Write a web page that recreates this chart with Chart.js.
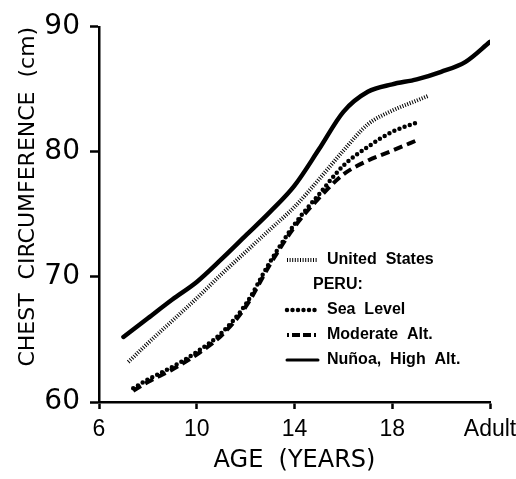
<!DOCTYPE html>
<html lang="en">
<head>
<meta charset="UTF-8">
<title>Chest circumference by age</title>
<style>
  body { margin: 0; background: #fff; }
  #wrap { width: 516px; height: 479px; }
</style>
</head>
<body>
<div id="wrap"><canvas id="canvas" width="516" height="479"></canvas></div>

<script src="https://cdn.jsdelivr.net/npm/chart.js@4.4.1/dist/chart.umd.min.js"></script>
<script>
// age in years (22 = "Adult"), chest circumference in cm
const usAges = [7.2, 8, 9, 10, 11, 12, 13, 14, 15, 16, 17, 18, 19, 19.5];
const usChest = [63.2, 64.7, 66.5, 68.3, 70.2, 72.0, 73.8, 75.6, 77.8, 80.1, 82.2, 83.3, 84.1, 84.5];

const seaAges = [7.4, 8, 9, 10, 11, 12, 13, 14, 15, 16, 17, 18, 19.1];
const seaChest = [61.1, 61.8, 62.8, 64.0, 65.5, 67.8, 71.2, 74.2, 76.6, 78.9, 80.4, 81.6, 82.4];

const modAges = [7.4, 8, 9, 10, 11, 12, 13, 14, 15, 16, 17, 18, 19.1];
const modChest = [60.9, 61.6, 62.6, 63.8, 65.3, 67.6, 71.0, 74.0, 76.3, 78.2, 79.3, 80.1, 81.0];

const nunoaAges = [7, 8, 9, 10, 11, 12, 13, 14, 15, 16, 17, 18, 19, 20, 21, 22];
const nunoaChest = [65.2, 66.7, 68.2, 69.6, 71.4, 73.3, 75.2, 77.3, 80.2, 83.2, 84.8, 85.4, 85.8, 86.4, 87.2, 88.8];

const xTicks = [6, 10, 14, 18, 22];
const xTickLabels = ['6', '10', '14', '18', 'Adult'];
const yTicks = [60, 70, 80, 90];

function pts(xs, ys) {
    return xs.map(function (x, i) { return { x: x, y: ys[i] }; });
}

const styles = [
    { width: 4, dash: [1, 1.6], cap: 'butt' },      // United States
    null,                                          // PERU: heading
    { width: 4.5, dash: [0, 5.5], cap: 'round' },  // Sea Level
    { width: 4, dash: [9, 5], cap: 'butt' },       // Moderate Alt.
    { width: 4.5, dash: [], cap: 'round' }         // Nunoa
];
const legendNames = ['United  States', 'PERU:', 'Sea  Level', 'Moderate  Alt.', 'Nuñoa,  High  Alt.'];

// legend drawn in the plot like the original figure
const figLegend = {
    id: 'figLegend',
    afterDatasetsDraw(chart) {
        const ctx = chart.ctx;
        ctx.save();
        ctx.font = 'bold 16px "Liberation Sans", Arial, sans-serif';
        ctx.fillStyle = '#000';
        ctx.strokeStyle = '#000';
        ctx.textBaseline = 'middle';
        legendNames.forEach(function (name, i) {
            const y = 260 + i * 25;
            const s = styles[i];
            if (!s) {
                ctx.fillText(name, 313, y);
                return;
            }
            ctx.beginPath();
            ctx.lineWidth = i == 4 ? 3 : s.width;
            ctx.lineCap = s.cap;
            ctx.setLineDash(i == 3 ? [2, 3, 8, 3, 8, 3, 2] : s.dash);
            ctx.moveTo(287, y);
            ctx.lineTo(318, y);
            ctx.stroke();
            ctx.fillText(name, 327, y);
        });
        ctx.restore();
    }
};

function ds(label, xs, ys, s) {
    return {
        label: label,
        data: pts(xs, ys),
        borderColor: '#000',
        backgroundColor: 'transparent',
        borderWidth: s.width,
        borderDash: s.dash,
        borderCapStyle: s.cap,
        pointRadius: 0,
        fill: false,
        cubicInterpolationMode: 'monotone'
    };
}

const ctx = document.getElementById('canvas').getContext('2d');
const myChart = new Chart(ctx, {
    type: 'line',
    data: {
        datasets: [
            ds('United States', usAges, usChest, styles[0]),
            ds('Sea Level', seaAges, seaChest, styles[2]),
            ds('Moderate Alt.', modAges, modChest, styles[3]),
            ds('Nuñoa, High Alt.', nunoaAges, nunoaChest, styles[4])
        ]
    },
    options: {
        responsive: false,
        animation: false,
        devicePixelRatio: 1,
        layout: { padding: { top: 24, right: 26, left: 0, bottom: 0 } },
        plugins: {
            legend: { display: false },
            tooltip: { enabled: false }
        },
        scales: {
            x: {
                type: 'linear',
                min: 6,
                max: 22,
                afterBuildTicks: function (scale) {
                    scale.ticks = xTicks.map(function (v) { return { value: v }; });
                },
                afterFit: function (scale) {
                    scale.height = 77;
                    scale.paddingRight = 26;
                },
                ticks: {
                    color: '#000',
                    padding: 7,
                    maxRotation: 0,
                    font: { family: '"Liberation Sans", Arial, sans-serif', size: 23 },
                    callback: function (v) { return xTickLabels[xTicks.indexOf(v)]; }
                },
                grid: { drawOnChartArea: false, tickLength: 7, tickWidth: 2.5, tickColor: '#000' },
                border: { color: '#000', width: 2.5 },
                title: {
                    display: true,
                    text: 'AGE  (YEARS)',
                    color: '#000',
                    padding: { top: 0, bottom: 4 },
                    font: { family: '"DejaVu Sans", sans-serif', size: 24 }
                }
            },
            y: {
                type: 'linear',
                min: 60,
                max: 90,
                afterBuildTicks: function (scale) {
                    scale.ticks = yTicks.map(function (v) { return { value: v }; });
                },
                afterFit: function (scale) {
                    scale.width = 99;
                },
                ticks: {
                    color: '#000',
                    padding: 10,
                    font: { family: '"DejaVu Sans", sans-serif', size: 28 }
                },
                grid: { drawOnChartArea: false, tickLength: 9, tickWidth: 2.5, tickColor: '#000' },
                border: { color: '#000', width: 2.5 },
                title: {
                    display: true,
                    text: 'CHEST  CIRCUMFERENCE  (cm)',
                    align: 'end',
                    color: '#000',
                    padding: { top: 15, bottom: 0 },
                    font: { family: '"DejaVu Sans", sans-serif', size: 22 }
                }
            }
        }
    },
    plugins: [figLegend]
});
</script>
</body>
</html>
